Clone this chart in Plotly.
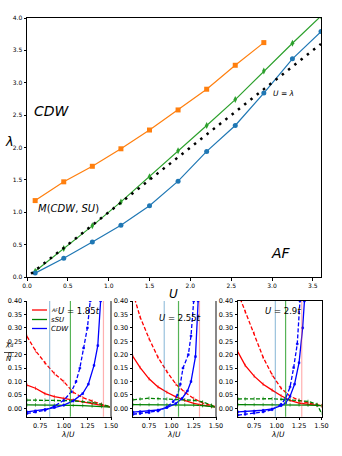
import plotly.graph_objects as go

# ---------------- main phase diagram ---------------- #
U_ORANGE = [0.1, 0.45, 0.8, 1.15, 1.5, 1.85, 2.2, 2.55, 2.9]
LAM_ORANGE = [1.18, 1.47, 1.71, 1.98, 2.27, 2.58, 2.90, 3.27, 3.62]

U_GREEN = [0.1, 0.45, 0.8, 1.15, 1.5, 1.85, 2.2, 2.55, 2.9, 3.25, 3.6]
LAM_GREEN = [0.09, 0.44, 0.79, 1.16, 1.55, 1.95, 2.34, 2.74, 3.18, 3.61, 4.03]

U_BLUE = [0.1, 0.45, 0.8, 1.15, 1.5, 1.85, 2.2, 2.55, 2.9, 3.25, 3.6]
LAM_BLUE = [0.06, 0.29, 0.54, 0.80, 1.10, 1.48, 1.94, 2.34, 2.84, 3.37, 3.79]

U_DIAG = [0.05, 3.6]
LAM_DIAG = [0.05, 3.6]

# ---------------- susceptibility panels ---------------- #
U_TITLES = ["U = 1.85t", "U = 2.55t", "U = 2.9t"]
X_RANGES = [[0.61, 1.5], [0.57, 1.5], [0.57, 1.5]]

# panel 1 (U = 1.85t)
P1_X = [0.61, 0.7, 0.8, 0.9, 1.0, 1.1, 1.2, 1.3, 1.4, 1.5]
P1_AF = [0.087, 0.075, 0.055, 0.044, 0.037, 0.031, 0.025, 0.018, 0.012, 0.005]
P1_AF_D = [0.268, 0.215, 0.17, 0.13, 0.10, 0.06, 0.04, 0.027, 0.015, 0.005]
P1_SU = [0.013, 0.013, 0.013, 0.012, 0.012, 0.011, 0.010, 0.009, 0.007, 0.005]
P1_SU_D = [0.031, 0.031, 0.031, 0.030, 0.029, 0.028, 0.026, 0.022, 0.015, 0.006]
P1_CDW_X = [0.61, 0.7, 0.8, 0.9, 1.0, 1.1, 1.2, 1.26, 1.32, 1.36, 1.39]
P1_CDW = [-0.013, -0.009, -0.004, 0.003, 0.012, 0.028, 0.055, 0.09, 0.16, 0.234, 0.40]
P1_CDW_D_X = [0.61, 0.7, 0.8, 0.9, 1.0, 1.08, 1.13, 1.17, 1.21, 1.25, 1.28]
P1_CDW_D = [-0.019, -0.014, -0.007, 0.008, 0.03, 0.062, 0.10, 0.15, 0.225, 0.30, 0.40]

# panel 2 (U = 2.55t)
P2_X = [0.57, 0.65, 0.75, 0.85, 0.95, 1.05, 1.15, 1.25, 1.35, 1.45, 1.5]
P2_AF = [0.193, 0.152, 0.11, 0.08, 0.06, 0.043, 0.03, 0.019, 0.012, 0.007, 0.005]
P2_AF_D = [0.43, 0.34, 0.26, 0.19, 0.137, 0.09, 0.06, 0.037, 0.02, 0.01, 0.006]
P2_SU = [0.014, 0.014, 0.014, 0.014, 0.014, 0.013, 0.013, 0.012, 0.010, 0.007, 0.005]
P2_SU_D = [0.032, 0.035, 0.038, 0.036, 0.035, 0.034, 0.032, 0.030, 0.024, 0.012, 0.002]
P2_CDW_X = [0.57, 0.65, 0.75, 0.85, 0.95, 1.05, 1.12, 1.18, 1.22, 1.27, 1.30]
P2_CDW = [-0.014, -0.012, -0.009, -0.006, 0.003, 0.018, 0.037, 0.065, 0.10, 0.193, 0.40]
P2_CDW_D_X = [0.57, 0.65, 0.75, 0.85, 0.95, 1.02, 1.07, 1.10, 1.13, 1.19, 1.22, 1.25]
P2_CDW_D = [-0.022, -0.019, -0.016, -0.010, 0.005, 0.025, 0.05, 0.09, 0.15, 0.20, 0.27, 0.40]

# panel 3 (U = 2.9t)
P3_X = [0.57, 0.65, 0.75, 0.85, 0.95, 1.05, 1.15, 1.25, 1.35, 1.45, 1.5]
P3_AF = [0.21, 0.16, 0.12, 0.09, 0.068, 0.047, 0.03, 0.02, 0.015, 0.012, 0.01]
P3_AF_D = [0.43, 0.36, 0.28, 0.19, 0.125, 0.075, 0.045, 0.03, 0.02, 0.013, 0.01]
P3_SU = [0.014, 0.014, 0.014, 0.014, 0.014, 0.014, 0.013, 0.013, 0.012, 0.011, 0.010]
P3_SU_D = [0.035, 0.035, 0.036, 0.037, 0.036, 0.034, 0.032, 0.030, 0.026, 0.015, -0.018]
P3_CDW_X = [0.57, 0.65, 0.75, 0.85, 0.95, 1.05, 1.1, 1.15, 1.2, 1.25, 1.29, 1.31]
P3_CDW = [-0.013, -0.012, -0.010, -0.007, -0.002, 0.010, 0.020, 0.045, 0.09, 0.17, 0.30, 0.40]
P3_CDW_D_X = [0.57, 0.65, 0.75, 0.85, 0.95, 1.05, 1.1, 1.15, 1.19, 1.23, 1.26]
P3_CDW_D = [-0.025, -0.022, -0.018, -0.013, -0.005, 0.015, 0.037, 0.08, 0.152, 0.24, 0.40]

# vertical marker lines (CDW / sSU / AF) per panel
VL_BLUE = [0.85, 0.92, 0.986]
VL_GREEN = [1.07, 1.08, 1.10]
VL_RED = [1.42, 1.315, 1.28]

W, H = 342, 456
FONT = "DejaVu Sans"


def px(x):
    return x / W


def py(y):
    return 1 - y / H


fig = go.Figure()

# main plot
fig.add_trace(go.Scatter(x=U_ORANGE, y=LAM_ORANGE, mode="lines+markers",
                         line=dict(color="#ff7f0e", width=1.2),
                         marker=dict(symbol="square", size=5, color="#ff7f0e"),
                         xaxis="x", yaxis="y", showlegend=False))
fig.add_trace(go.Scatter(x=U_GREEN, y=LAM_GREEN, mode="lines+markers",
                         line=dict(color="#2ca02c", width=1.2),
                         marker=dict(symbol="diamond-tall", size=5, color="#2ca02c"),
                         xaxis="x", yaxis="y", showlegend=False))
fig.add_trace(go.Scatter(x=U_BLUE, y=LAM_BLUE, mode="lines+markers",
                         line=dict(color="#1f77b4", width=1.2),
                         marker=dict(symbol="circle", size=5, color="#1f77b4"),
                         xaxis="x", yaxis="y", showlegend=False))
fig.add_trace(go.Scatter(x=U_DIAG, y=LAM_DIAG, mode="lines",
                         line=dict(color="black", width=2.5, dash="2.5px,5.5px"),
                         xaxis="x", yaxis="y", showlegend=False))

panels = [
    (P1_X, P1_AF, P1_AF_D, P1_SU, P1_SU_D, P1_CDW_X, P1_CDW, P1_CDW_D_X, P1_CDW_D),
    (P2_X, P2_AF, P2_AF_D, P2_SU, P2_SU_D, P2_CDW_X, P2_CDW, P2_CDW_D_X, P2_CDW_D),
    (P3_X, P3_AF, P3_AF_D, P3_SU, P3_SU_D, P3_CDW_X, P3_CDW, P3_CDW_D_X, P3_CDW_D),
]

for i, (xs, af, af_d, su, su_d, cx, cdw, cdx, cdw_d) in enumerate(panels):
    xa, ya = "x%d" % (i + 2), "y%d" % (i + 2)
    for xx, yy, col, dash, sym, ms in [
        (xs, af_d, "red", "4px,2px", "line-ns", 2.5),
        (xs, af, "red", "solid", "line-ns", 2.5),
        (xs, su_d, "green", "4px,2px", "line-ns", 2.5),
        (xs, su, "green", "solid", "line-ns", 2.5),
        (cdx, cdw_d, "blue", "4px,2px", "square", 1.8),
        (cx, cdw, "blue", "solid", "square", 1.8),
    ]:
        fig.add_trace(go.Scatter(x=xx, y=yy, mode="lines+markers",
                                 line=dict(color=col, width=1.3, dash=dash),
                                 marker=dict(symbol=sym, size=ms, color=col,
                                             line=dict(color=col, width=0.6)),
                                 xaxis=xa, yaxis=ya, showlegend=False))
    for xv, col in [(VL_BLUE[i], "rgba(31,119,180,0.45)"),
                    (VL_GREEN[i], "rgba(44,160,44,0.8)"),
                    (VL_RED[i], "rgba(255,80,80,0.45)")]:
        fig.add_shape(type="line", x0=xv, x1=xv, y0=0, y1=1,
                      xref=xa, yref=ya + " domain",
                      line=dict(color=col, width=1.2))

axis_common = dict(showgrid=False, zeroline=False, showline=True, mirror=True,
                   automargin=False,
                   linecolor="black", linewidth=1, ticks="outside", ticklen=2.5,
                   tickwidth=0.8, tickcolor="black",
                   tickfont=dict(family=FONT, size=6, color="black"))

layout = dict(
    template="none",
    width=W, height=H, margin=dict(l=0, r=0, t=0, b=0),
    paper_bgcolor="white", plot_bgcolor="white",
    font=dict(family=FONT, color="black"),
    xaxis=dict(axis_common, domain=[px(27), px(321)], range=[0, 3.6],
               tickvals=[0, 0.5, 1, 1.5, 2, 2.5, 3, 3.5], tickformat=".1f"),
    yaxis=dict(axis_common, domain=[py(277), py(18)], range=[0, 4.0],
               tickvals=[0, 0.5, 1, 1.5, 2, 2.5, 3, 3.5, 4], tickformat=".1f"),
)

x_domains = [[px(27), px(111)], [px(133), px(216)], [px(238), px(321.5)]]
for i in range(3):
    ax = dict(axis_common, domain=x_domains[i], range=X_RANGES[i],
              tickvals=[0.75, 1.0, 1.25, 1.5], tickformat=".2f", anchor="y%d" % (i + 2))
    ax["tickfont"] = dict(family=FONT, size=6.5, color="black")
    if i < 2:
        ax["mirror"] = False
    layout["xaxis%d" % (i + 2)] = ax
    ay = dict(axis_common, domain=[py(416.7), py(301)], range=[-0.031, 0.40],
              tickvals=[0, 0.05, 0.1, 0.15, 0.2, 0.25, 0.3, 0.35, 0.4], tickformat=".2f",
              anchor="x%d" % (i + 2))
    ay["tickfont"] = dict(family=FONT, size=6.5, color="black")
    layout["yaxis%d" % (i + 2)] = ay

fig.update_layout(**layout)

# grey right spines of the first two panels
for xr in [111, 216]:
    fig.add_shape(type="line", xref="paper", yref="paper",
                  x0=px(xr), x1=px(xr), y0=py(416.7), y1=py(301),
                  line=dict(color="#888888", width=2))


def note(text, x, y, size, xanchor="center"):
    fig.add_annotation(text=text, x=px(x), y=py(y), xref="paper", yref="paper",
                       xanchor=xanchor, yanchor="middle", showarrow=False,
                       borderpad=0,
                       font=dict(family=FONT, size=size, color="black"))


note("<i>CDW</i>", 52, 111, 14)
note("<i>λ</i>", 9, 141, 13)
note("<i>U</i> = <i>λ</i>", 283, 93, 7.5)
note("<i>M</i>(<i>CDW</i>, <i>SU</i>)", 68, 209, 10)
note("<i>AF</i>", 281, 253, 14)
note("<i>U</i>", 173, 294, 12)

title_pos = [(79, 311), (180, 318), (283, 311)]
for t, (x, y) in zip(U_TITLES, title_pos):
    u, rest = t.split(" = ")
    note("<i>%s</i> = %s<i>t</i>" % (u, rest[:-1]), x, y, 8.5)

for x in [68, 174, 278]:
    note("<i>λ</i>/<i>U</i>", x, 434, 7.5)

# fraction chi_alpha / N
note("<i>χ<sub>α</sub></i>", 9, 344, 7)
note("<i>N</i>", 9, 359, 7)
fig.add_shape(type="line", xref="paper", yref="paper",
              x0=px(4), x1=px(14), y0=py(352.5), y1=py(352.5),
              line=dict(color="black", width=0.7))

# legend of panel 1
for name, col, y in [("<i><sup>AF</sup></i>", "red", 310), ("<i>sSU</i>", "green", 319.5),
                     ("<i>CDW</i>", "blue", 328.5)]:
    fig.add_shape(type="line", xref="paper", yref="paper",
                  x0=px(32), x1=px(47), y0=py(y), y1=py(y),
                  line=dict(color=col, width=1.3))
    note(name, 50, y, 7, xanchor="left")

fig.write_html("out.html", config={"displayModeBar": False},
               post_script="document.body.style.margin='0';")
